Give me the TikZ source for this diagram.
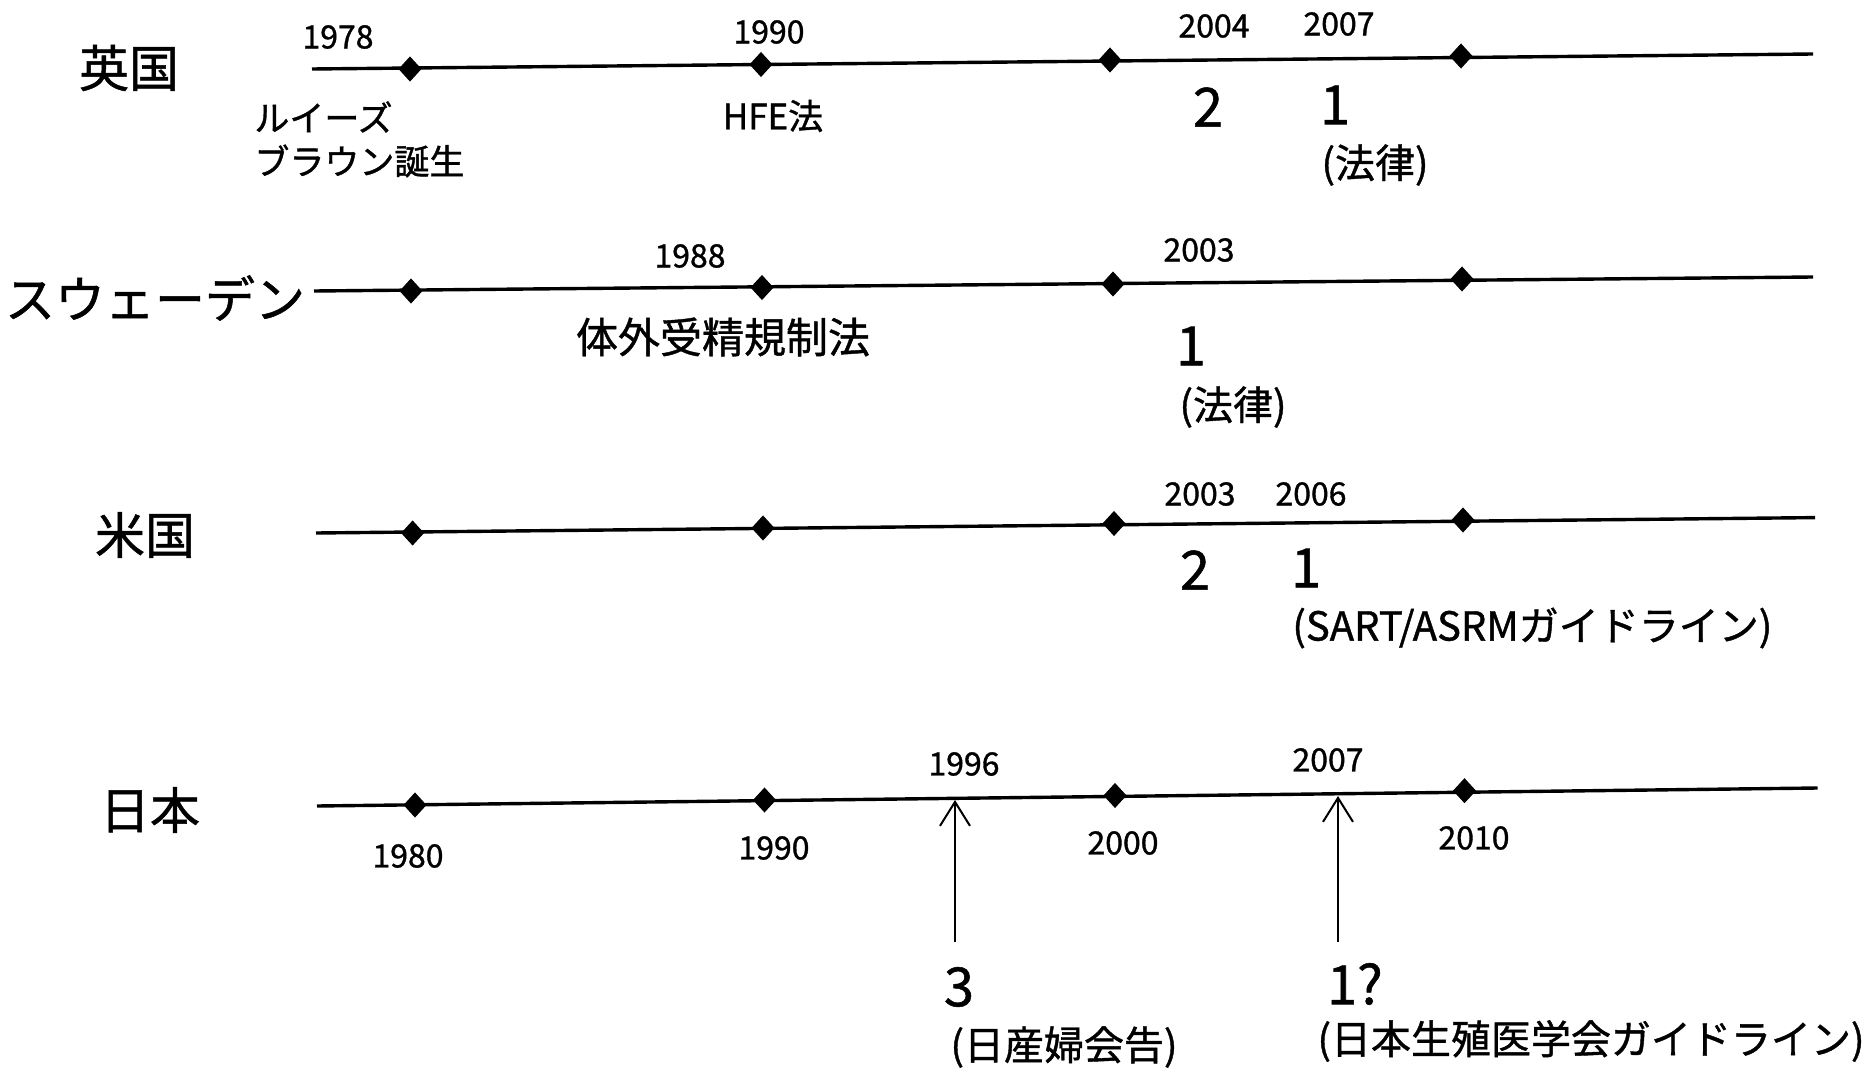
\documentclass[tikz,border=0pt]{standalone}
\usepackage{fontspec}
\setmainfont[FakeBold=1]{Noto Sans CJK JP}
\usetikzlibrary{shapes.geometric,arrows.meta}
\tikzset{
  tline/.style={line width=1.7pt},
  dia/.style={diamond,fill=black,draw=black,line width=0.5pt,inner sep=0pt,minimum width=11pt,minimum height=12pt},
  country/.style={font=\fontsize{25pt}{27pt}\selectfont,inner sep=0pt},
  yr/.style={font=\fontsize{16pt}{18pt}\selectfont,inner sep=0pt},
  big/.style={font=\fontsize{27pt}{29pt}\selectfont,inner sep=0pt},
  ev/.style={font=\fontsize{17.5pt}{20pt}\selectfont,inner sep=0pt},
  evl/.style={font=\fontsize{21pt}{23pt}\selectfont,inner sep=0pt},
  note/.style={font=\fontsize{20pt}{22pt}\selectfont,inner sep=0pt},
  uparrow/.style={line width=1pt,-{Straight Barb[length=12pt,width=15pt,line width=1pt]}}
}
\begin{document}
\begin{tikzpicture}[x=0.5pt,y=-0.5pt]
\useasboundingbox (0,0) rectangle (1870,1070);
% ---- Row 1: UK
\coordinate (s1) at (312,69); \coordinate (e1) at (1813,54);
\draw[tline] (s1) -- (e1);
\node[dia] (d11) at (410,69) {};
\node[dia] (d12) at (761,64.5) {};
\node[dia] (d13) at (1110,60) {};
\node[dia] (d14) at (1461,56) {};
\node[country] (c1) at (129,68) {英国};
\node[yr] (y11) at (338,37) {1978};
\node[yr] (y12) at (769,32) {1990};
\node[yr] (y13) at (1214,26) {2004};
\node[yr] (y14) at (1339,24) {2007};
\node[ev,anchor=west] (l11) at (254,117) {ルイーズ};
\node[ev,anchor=west] (l12) at (254,161) {ブラウン誕生};
\node[ev] (l13) at (773,116) {HFE法};
\node[big] (n11) at (1208,107) {2};
\node[big] (n12) at (1335,105) {1};
\node[note] (t11) at (1375,165) {(法律)};
% ---- Row 2: Sweden
\coordinate (s2) at (314,291); \coordinate (e2) at (1813,277);
\draw[tline] (s2) -- (e2);
\node[dia] (d21) at (411,291) {};
\node[dia] (d22) at (762,287.5) {};
\node[dia] (d23) at (1113,284) {};
\node[dia] (d24) at (1462,279) {};
\node[country] (c2) at (155,298) {スウェーデン};
\node[yr] (y21) at (690,256) {1988};
\node[yr] (y22) at (1199,250) {2003};
\node[evl] (l21) at (723,337) {体外受精規制法};
\node[big] (n21) at (1191,346) {1};
\node[note] (t21) at (1233,407) {(法律)};
% ---- Row 3: USA
\coordinate (s3) at (316,533); \coordinate (e3) at (1815,517.6);
\draw[tline] (s3) -- (e3);
\node[dia] (d31) at (412.6,533) {};
\node[dia] (d32) at (763,528) {};
\node[dia] (d33) at (1114,523.5) {};
\node[dia] (d34) at (1463,520) {};
\node[country] (c3) at (145,535) {米国};
\node[yr] (y31) at (1200,494) {2003};
\node[yr] (y32) at (1311,494) {2006};
\node[big] (n31) at (1195,570) {2};
\node[big] (n32) at (1306,568) {1};
\node[note,anchor=west] (t31) at (1292,628) {(SART/ASRMガイドライン)};
% ---- Row 4: Japan
\coordinate (s4) at (317,806); \coordinate (e4) at (1817.5,788);
\draw[tline] (s4) -- (e4);
\node[dia] (d41) at (415,805) {};
\node[dia] (d42) at (764.5,800) {};
\node[dia] (d43) at (1115,795.5) {};
\node[dia] (d44) at (1464.5,790.7) {};
\node[country] (c4) at (150,810) {日本};
\node[yr] (y41) at (408,856) {1980};
\node[yr] (y42) at (774,848) {1990};
\node[yr] (y43) at (1123,843) {2000};
\node[yr] (y44) at (1474,838) {2010};
\node[yr] (y45) at (964,764) {1996};
\node[yr] (y46) at (1328,760) {2007};
\coordinate (a1b) at (955,942); \coordinate (a1t) at (955,800);
\coordinate (a2b) at (1338,942); \coordinate (a2t) at (1338,796);
\draw[uparrow] (a1b) -- (a1t);
\draw[uparrow] (a2b) -- (a2t);
\node[big] (n41) at (959,987) {3};
\node[note] (t41) at (1064,1047) {(日産婦会告)};
\node[big] (n42) at (1355,984) {1?};
\node[note] (t42) at (1591,1041) {(日本生殖医学会ガイドライン)};
\end{tikzpicture}
\end{document}
